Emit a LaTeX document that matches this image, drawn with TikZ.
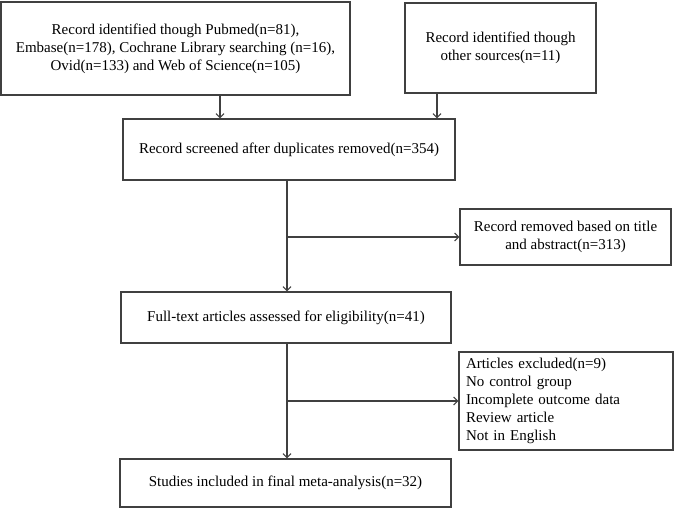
\documentclass[tikz,border=0pt]{standalone}
\usepackage{fontspec}
\setmainfont{Liberation Serif}
\usetikzlibrary{arrows.meta}
\definecolor{ln}{HTML}{404040}
\begin{document}
\begin{tikzpicture}[x=1pt,y=-1pt,
  box/.style={draw=ln, line width=1.2pt, inner sep=0pt, align=center,
    font=\fontsize{15}{18}\selectfont, text=black},
  arr/.style={draw=ln, line width=1.1pt, -{Straight Barb[length=4pt,width=8pt]}}]
\useasboundingbox (0,0) rectangle (675,510);
\node[box, minimum width=349pt, minimum height=93pt] (b1) at (175.5,48.5)
  {Record identified though Pubmed(n=81),\\Embase(n=178), Cochrane Library searching (n=16),\\Ovid(n=133) and Web of Science(n=105)};
\node[box, minimum width=191pt, minimum height=90pt] (b2) at (500.5,48)
  {Record identified though\\other sources(n=11)};
\node[box, minimum width=332pt, minimum height=61pt] (b3) at (289,149.5)
  {Record screened after duplicates removed(n=354)};
\node[box, minimum width=211pt, minimum height=56pt] (b5) at (565.5,237)
  {Record removed based on title\\and abstract(n=313)};
\node[box, minimum width=330pt, minimum height=51pt] (b4) at (286,317.5)
  {Full-text articles assessed for eligibility(n=41)};
\node[box, minimum width=214pt, minimum height=98pt, align=left, text width=200pt] (b7) at (566,401)
  {Articles excluded(n=9)\\No control group\\Incomplete outcome data\\Review article\\Not in English};
\node[box, minimum width=331pt, minimum height=48pt] (b6) at (285.5,483)
  {Studies included in final meta-analysis(n=32)};
\coordinate (c1) at (220,0);
\coordinate (c2) at (437,0);
\coordinate (c3) at (287,0);
\coordinate (j1) at (287,237);
\coordinate (j2) at (287,401);
\draw[arr] (b1.south -| c1) -- (b3.north -| c1);
\draw[arr] (b2.south -| c2) -- (b3.north -| c2);
\draw[arr] (b3.south -| c3) -- (b4.north -| c3);
\draw[arr] (j1) -- (b5.west);
\draw[arr] (b4.south -| c3) -- (b6.north -| c3);
\draw[arr] (j2) -- (b7.west);
\end{tikzpicture}
\end{document}
